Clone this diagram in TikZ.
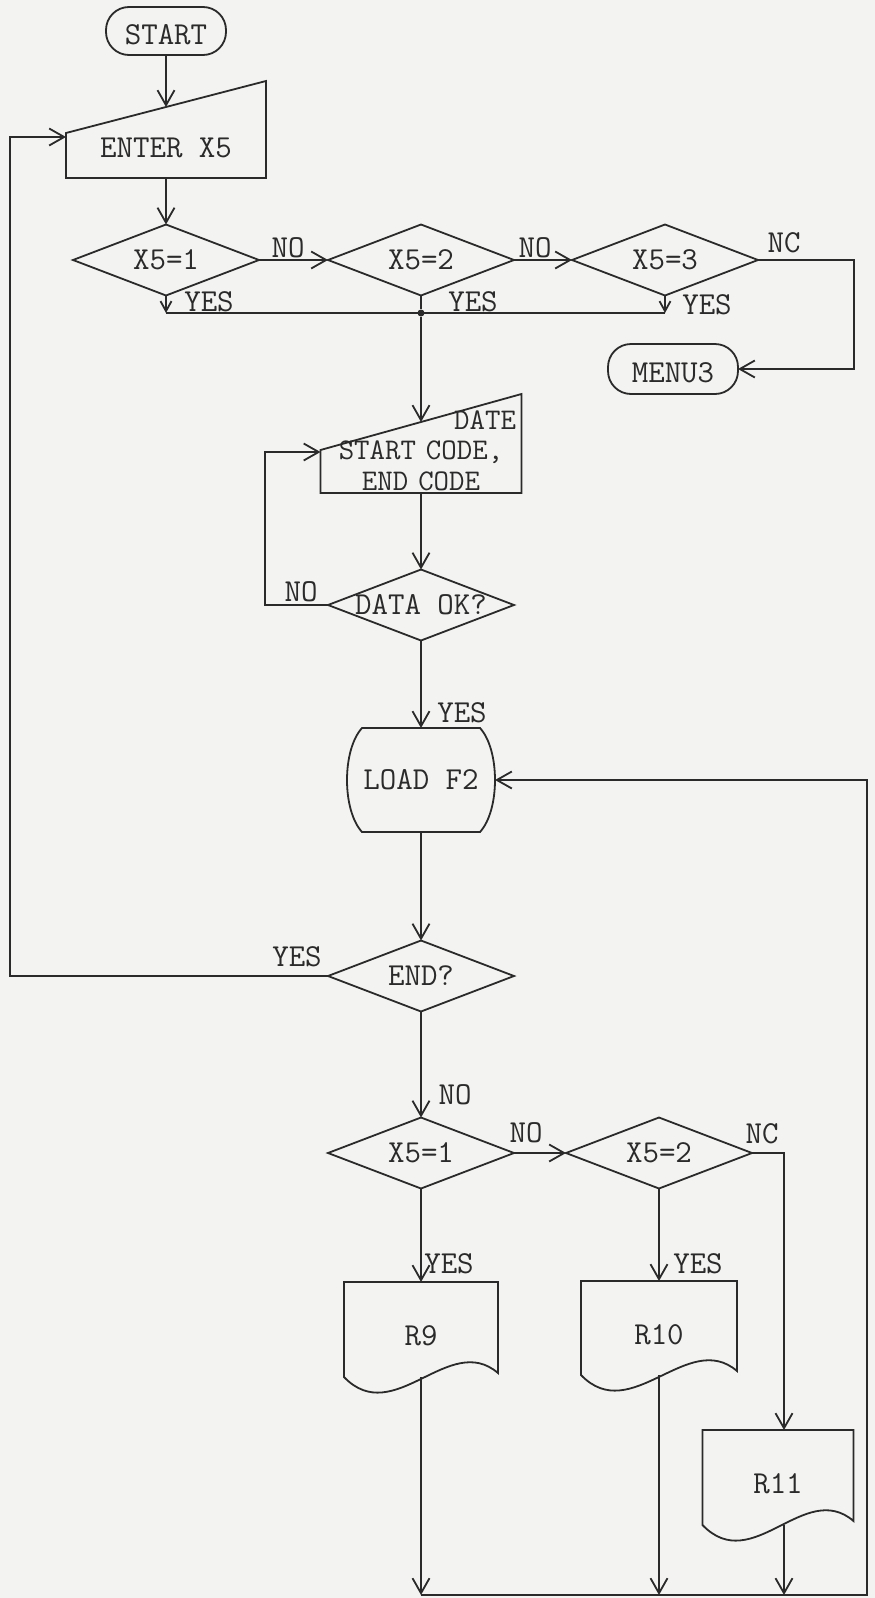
\documentclass[tikz,border=0pt]{standalone}
\usepackage{fontspec}
\usetikzlibrary{arrows.meta,shapes.geometric}
\definecolor{ink}{HTML}{2A2A2A}
\definecolor{paper}{HTML}{F3F3F1}
\newcommand\manualpath[2]{\draw[outline] (#1.south west) -- (#1.south east) -- (#1.north east) -- ([yshift=-#2]#1.north west) coordinate[pos=0.5] (#1-top) -- cycle;}
\newcommand\docpath[1]{\draw[outline] (#1.north west) -- (#1.north east) -- ([yshift=4pt]#1.south east) .. controls +(-49,-42) and +(50,52) .. (#1.south west) -- cycle;}
\tikzset{
  base/.style={font=\ttfamily\fontsize{32}{28.5}\selectfont, text=ink, inner sep=0pt, outer sep=0pt},
  term/.style={base, draw=ink, rectangle, rounded corners=23pt, text height=26pt, text depth=0pt},
  dec/.style={base, draw=ink, diamond, aspect=2.6, inner sep=-4pt, minimum width=186pt, minimum height=71pt},
  blank/.style={base, rectangle, draw=none},
  docbox/.style={blank, text height=32pt, text depth=0pt},
  lbl/.style={base, anchor=base},
  outline/.style={draw=ink, line join=miter},
  wire/.style={draw=ink},
  arr/.style={draw=ink, -{Straight Barb[length=15pt,width=17pt]}},
  sarr/.style={draw=ink, -{Straight Barb[length=10pt,width=11pt]}},
}
\begin{document}
\begin{tikzpicture}[x=1pt, y=-1pt, line width=1.8pt]
\path[use as bounding box, fill=paper] (0,0) rectangle (875,1598);

% ---- nodes ----
\node[term, minimum width=120pt, minimum height=48pt] (start) at (166,31) {START};
\node[blank, minimum width=200pt, minimum height=97pt, text height=55.6pt, text depth=0pt] (enter) at (166,129.5) {ENTER X5};
\manualpath{enter}{52pt}

\node[dec] (d1) at (166,260) {X5=1};
\node[dec] (d2) at (421,260) {X5=2};
\node[dec] (d3) at (665,260) {X5=3};
\node[circle, fill=ink, inner sep=0pt, minimum size=7pt] (J) at (421,313) {};
\node[term, minimum width=130pt, minimum height=50pt] (menu) at (673,369) {MENU3};

\node[blank, font=\ttfamily\fontsize{30}{30.5}\selectfont, minimum width=201pt, minimum height=99pt, text width=190pt, align=center] (date) at (421,443.5)
  {\rule{0pt}{32.4pt}\hfill DATE\\START CODE,\\END CODE};
\manualpath{date}{56pt}

\node[dec] (dok) at (421,605) {DATA OK?};

\node[blank, minimum width=148pt, minimum height=104pt] (load) at (421,780) {LOAD F2};
\draw[outline] ([xshift=15pt]load.north west) -- ([xshift=-15pt]load.north east)
  .. controls ([xshift=5pt,yshift=-22pt]load.north east) and ([xshift=5pt,yshift=22pt]load.south east) .. ([xshift=-15pt]load.south east)
  -- ([xshift=15pt]load.south west)
  .. controls ([xshift=-5pt,yshift=22pt]load.south west) and ([xshift=-5pt,yshift=-22pt]load.north west) .. ([xshift=15pt]load.north west) -- cycle;

\node[dec] (end) at (421,976) {END?};
\node[dec] (d4) at (421,1153) {X5=1};
\node[dec] (d5) at (659,1153) {X5=2};

\node[docbox, minimum width=154pt, minimum height=95pt] (r9) at (421,1329.5) {R9};
\docpath{r9}
\node[docbox, minimum width=156pt, minimum height=94pt] (r10) at (659,1328) {R10};
\docpath{r10}
\node[docbox, minimum width=151pt, minimum height=95pt] (r11) at (778,1477.5) {R11};
\docpath{r11}

\coordinate (bot) at (867,1595);

% ---- connectors ----
\draw[arr] (start.south) -- (enter-top);
\draw[arr] (enter.south) -- (d1.north);
\draw[arr] (d1.east) -- (d2.west);
\draw[arr] (d2.east) -- (d3.west);
\draw[arr] (d3.east) -- ++(96,0) |- (menu.east);
\draw[sarr] (d1.south) -- (d1.south |- J);
\draw[sarr] (d3.south) -- (d3.south |- J);
\draw[wire] (d1.south |- J) -- (d3.south |- J);
\draw[wire] (d2.south) -- (J);
\draw[arr] (J) -- (date-top);
\draw[arr] (date.south) -- (dok.north);
\draw[arr] (dok.west) -- ++(-63,0) |- ([yshift=-58pt]date.north west);
\draw[arr] (dok.south) -- (load.north);
\draw[arr] (load.south) -- (end.north);
\draw[arr] (end.west) -- ++(-318,0) |- ([yshift=-56pt]enter.north west);
\draw[arr] (end.south) -- (d4.north);
\draw[arr] (d4.east) -- (d5.west);
\draw[arr] (d5.east) -| ([xshift=6pt]r11.north);
\draw[arr] (d4.south) -- (r9.north);
\draw[arr] (d5.south) -- (r10.north);
\draw[arr] (r9.south) -- (r9.south |- bot);
\draw[arr] (r10.south) -- (r10.south |- bot);
\draw[arr] ([xshift=6pt]r11.south) -- ([xshift=6pt]r11.south |- bot);
\draw[arr] (r9.south |- bot) -- (bot) |- (load.east);

% ---- labels ----
\node[lbl] (l1) at (288,257) {NO};
\node[lbl] (l2) at (209,311) {YES};
\node[lbl] (l3) at (473,311) {YES};
\node[lbl] (l4) at (535,257) {NO};
\node[lbl] (l5) at (784,252) {NC};
\node[lbl] (l6) at (707,314) {YES};
\node[lbl] (l7) at (301,601) {NO};
\node[lbl] (l8) at (462,722) {YES};
\node[lbl] (l9) at (297,966) {YES};
\node[lbl] (l10) at (455,1104) {NO};
\node[lbl] (l11) at (526,1142) {NO};
\node[lbl] (l12) at (762,1143) {NC};
\node[lbl] (l13) at (449,1273) {YES};
\node[lbl] (l14) at (698,1273) {YES};
\end{tikzpicture}
\end{document}
